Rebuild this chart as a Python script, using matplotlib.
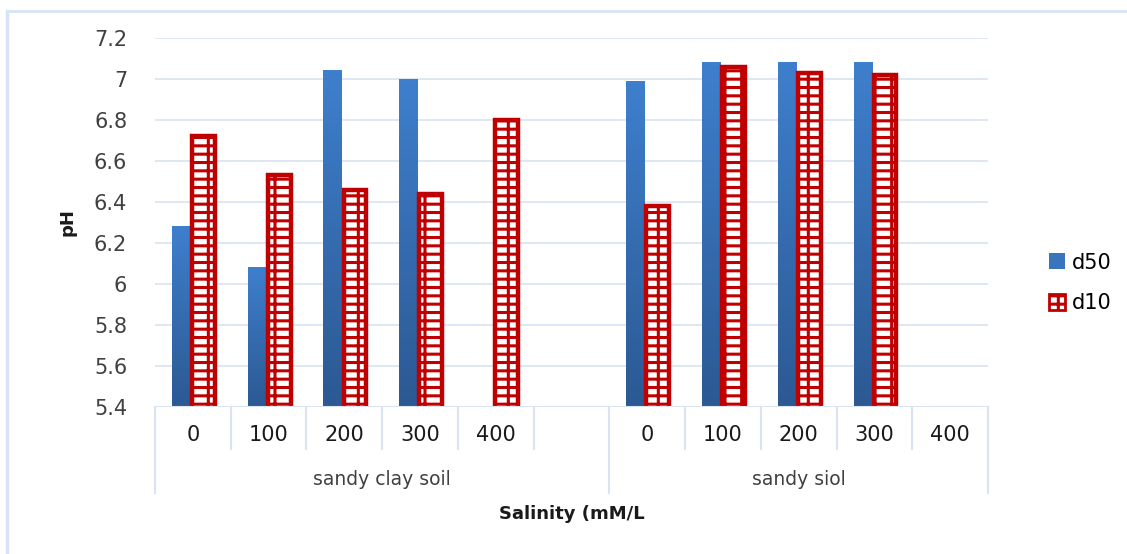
import numpy as np
import matplotlib
matplotlib.use("Agg")
import matplotlib.pyplot as plt
from matplotlib.colors import LinearSegmentedColormap
from matplotlib.patches import Patch
from matplotlib.lines import Line2D

# data
groups = ["sandy clay soil", "sandy siol"]
group1_labels = ["0", "100", "200", "300", "400", ""]
group2_labels = ["0", "100", "200", "300", "400"]
d50 = [6.28, 6.08, 7.04, 7.00, np.nan, np.nan, 6.99, 7.08, 7.08, 7.08, np.nan]
d10 = [6.72, 6.53, 6.46, 6.44, 6.80, np.nan, 6.38, 7.06, 7.03, 7.02, np.nan]
yticks = [5.4, 5.6, 5.8, 6.0, 6.2, 6.4, 6.6, 6.8, 7.0, 7.2]
ytick_labels = ["5.4", "5.6", "5.8", "6", "6.2", "6.4", "6.6", "6.8", "7", "7.2"]

GRID = "#D9E3F1"
RED = "#C00000"
plt.rcParams["hatch.linewidth"] = 2.2

W, H = 1127, 554
fig = plt.figure(figsize=(W / 100, H / 100), dpi=100)
L, R, B, T = 155, 988, 407, 38
ax = fig.add_axes([L / W, 1 - B / H, (R - L) / W, (B - T) / H])

x = np.arange(len(d50))
ymin, ymax = 5.4, 7.2

# gridlines
for t in yticks[1:]:
    ax.axhline(t, color=GRID, lw=1.2, zorder=0)

# d50: blue gradient bars
blue = LinearSegmentedColormap.from_list("b", ["#2C5993", "#3E7FCD"])
grad = np.linspace(0, 1, 100).reshape(-1, 1)
w50, off50 = 0.25, -0.15
for xi, v in zip(x, d50):
    if np.isnan(v):
        continue
    ax.imshow(grad, cmap=blue, origin="lower", aspect="auto",
              extent=[xi + off50 - w50 / 2, xi + off50 + w50 / 2, ymin, v], zorder=2)

# d10: brick-like hatched bars
w10, off10 = 0.30, 0.14
ax.bar(x + off10, d10, width=w10, facecolor="white", edgecolor=RED,
       hatch="-+", linewidth=0, zorder=3)
ax.bar(x + off10, d10, width=w10, facecolor="none", edgecolor=RED,
       linewidth=3.2, zorder=4)

ax.set_xlim(-0.5, len(x) - 0.5)
ax.set_ylim(ymin, ymax)
ax.set_yticks(yticks)
ax.set_yticklabels(ytick_labels, fontsize=15, color="#404040")
ax.tick_params(axis="y", length=0, pad=20)
ax.set_xticks([])
for s in ax.spines.values():
    s.set_visible(False)
ax.axhline(ymin, color=GRID, lw=1.5, zorder=5)

# category axis (two-level)
trans = ax.get_xaxis_transform()
short, long_ = -0.114, -0.233
for b in np.arange(-0.5, len(x), 1.0):
    depth = long_ if b in (-0.5, 5.5, len(x) - 0.5) else short
    ax.plot([b, b], [0, depth], color=GRID, lw=1.5, transform=trans, clip_on=False)
labels = group1_labels + group2_labels
for xi, lab in zip(x, labels):
    ax.text(xi, -0.075, lab, transform=trans, ha="center", va="center",
            fontsize=15, color="#1a1a1a")
ax.text(2.5, -0.197, groups[0], transform=trans, ha="center", va="center",
        fontsize=13.5, color="#404040")
ax.text(8, -0.197, groups[1], transform=trans, ha="center", va="center",
        fontsize=13.5, color="#404040")
ax.text(5, -0.29, "Salinity (mM/L", transform=trans, ha="center", va="center",
        fontsize=13, fontweight="bold", color="#1a1a1a")
fig.text(67 / W, 1 - 222 / H, "pH", rotation=90, ha="center", va="center",
         fontsize=13, fontweight="bold", color="#1a1a1a")

# legend
handles = [Patch(facecolor="#3A74BD", edgecolor="none"),
           Patch(facecolor="white", edgecolor=RED, hatch="-+", linewidth=2)]
fig.legend(handles, ["d50", "d10"], loc="center left",
           bbox_to_anchor=(1030 / W, 1 - 283 / H), frameon=False, fontsize=15,
           handlelength=0.8, handleheight=0.8, handletextpad=0.3, labelspacing=1.0)

# outer chart border
fig.add_artist(Line2D([7 / W, 7 / W], [0, 1 - 11 / H], color="#D6E4F5", lw=2.5))
fig.add_artist(Line2D([7 / W, 1], [1 - 11 / H, 1 - 11 / H], color="#D6E4F5", lw=2))

fig.savefig("out.png", dpi=100)
